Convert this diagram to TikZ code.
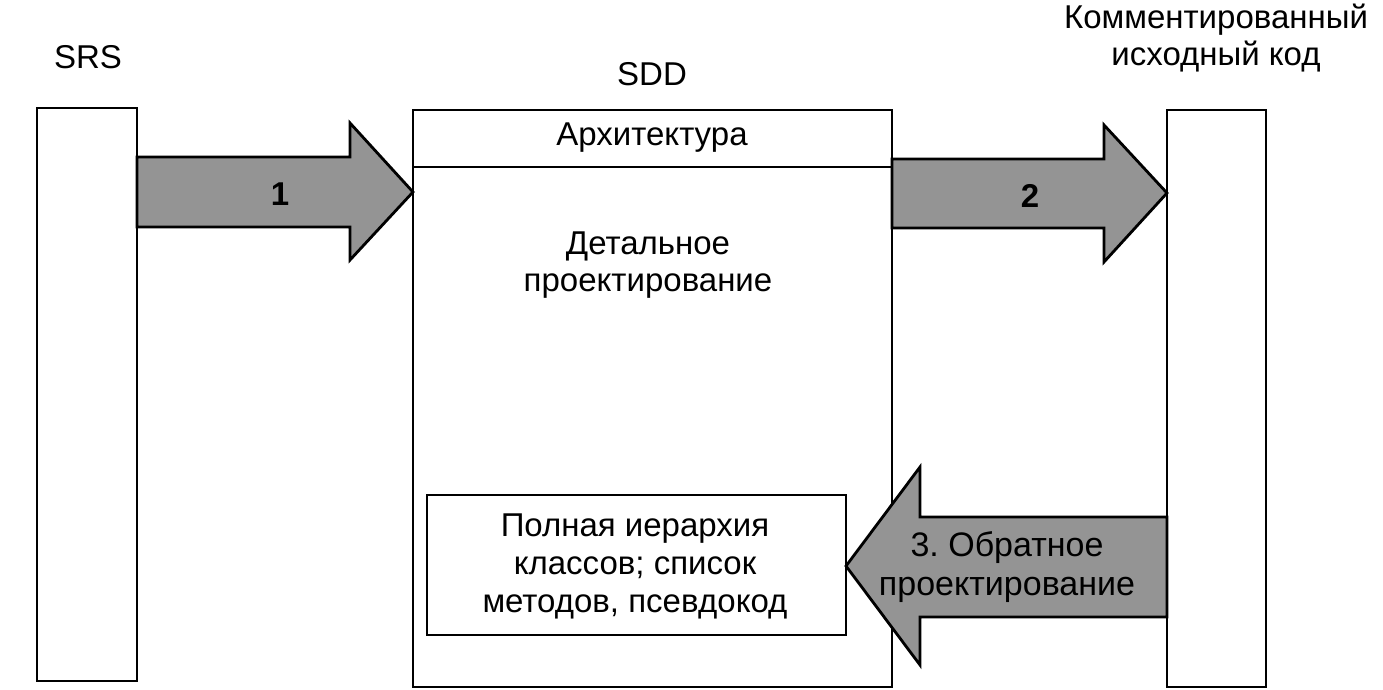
\documentclass[tikz,border=0pt]{standalone}
\usepackage{fontspec}
\setmainfont{Liberation Sans}
\frenchspacing
\tikzset{
  box/.style={draw, line width=2.8pt, inner sep=0pt, outer sep=0pt, fill=white},
  blk/.style={draw, line width=2.8pt, fill=black!42, line join=miter},
  lbl/.style={font=\fontsize{33}{37}\selectfont, align=center, inner sep=0pt},
}
\begin{document}
\begin{tikzpicture}[x=1pt,y=-1pt]
\useasboundingbox (0,0) rectangle (1383,689);
% boxes
\node[box, minimum width=100pt, minimum height=573pt] (srs) at (87,394.5) {};
\node[box, minimum width=479pt, minimum height=577pt] (sdd) at (652.5,398.5) {};
\node[box, minimum width=99pt, minimum height=577pt] (code) at (1216.5,398.5) {};
\node[box, minimum width=419pt, minimum height=140pt] (inner) at (636.5,565) {};
\coordinate (archL) at (413,167);
\coordinate (archR) at (892,167);
\draw[line width=2.8pt] (archL) -- (archR);
% titles
\node[lbl] (tsrs) at (88,57) {SRS};
\node[lbl] (tsdd) at (652,74) {SDD};
\node[lbl] (tcode) at (1216,38) {Комментированный\\исходный код};
\node[lbl] (arch) at (652,138) {Архитектура};
\node[lbl] (det) at (648,265) {Детальное\\проектирование};
\node[lbl, font=\fontsize{33}{38}\selectfont] (full) at (635,566) {Полная иерархия\\классов; список\\методов, псевдокод};
% block arrows
\draw[blk] (137,157) -- (350,157) -- (350,123) -- (413,192) -- (350,260) -- (350,227) -- (137,227) -- cycle;
\draw[blk] (892,159) -- (1104,159) -- (1104,125) -- (1167,193) -- (1104,262) -- (1104,228) -- (892,228) -- cycle;
\draw[blk] (1167,517) -- (920,517) -- (920,467) -- (846,566) -- (920,665) -- (920,617) -- (1167,617) -- cycle;
\node[lbl] (n1) at (280,194) {\bfseries 1};
\node[lbl] (n2) at (1030,196) {\bfseries 2};
\node[lbl, font=\fontsize{34}{39}\selectfont] (n3) at (1007,567) {3. Обратное\\проектирование};
\end{tikzpicture}
\end{document}
